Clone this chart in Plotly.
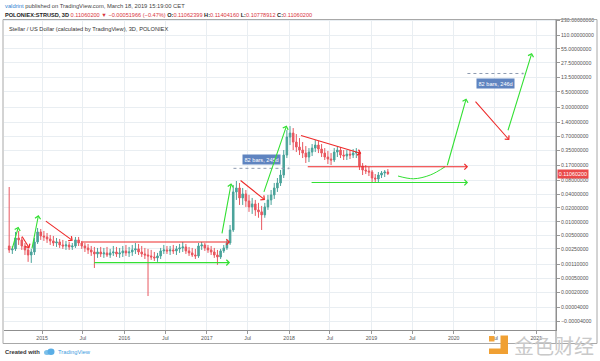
import math
import pandas as pd
import plotly.graph_objects as go

# ---------------- data (STR/USD, Poloniex, 14-day candles) ----------------
BAR_START = "2014-08-08"
BAR_DAYS = 14

opens = [0.00292, 0.00238, 0.00251, 0.00440, 0.00398, 0.00292, 0.00238, 0.00183, 0.00214, 0.00359,
         0.00597, 0.00487, 0.00463, 0.00418, 0.00378, 0.00341, 0.00359, 0.00308, 0.00292, 0.00308,
         0.00278, 0.00292, 0.00398, 0.00341, 0.00292, 0.00264, 0.00238, 0.00214, 0.00193, 0.00214,
         0.00193, 0.00204, 0.00183, 0.00204, 0.00214, 0.00193, 0.00204, 0.00226, 0.00204, 0.00214,
         0.00238, 0.00251, 0.00214, 0.00193, 0.00183, 0.00174, 0.00165, 0.00157, 0.00174, 0.00226,
         0.00238, 0.00226, 0.00238, 0.00226, 0.00251, 0.00264, 0.00278, 0.00226, 0.00204, 0.00183,
         0.00174, 0.00292, 0.00308, 0.00264, 0.00238, 0.00214, 0.00183, 0.00165, 0.00226, 0.00264,
         0.00341, 0.00660, 0.0444, 0.0541, 0.0329, 0.0402, 0.0283, 0.0210, 0.0244, 0.0181,
         0.0164, 0.0141, 0.0210, 0.0298, 0.0382, 0.0541, 0.0694, 0.1032, 0.279, 0.6835,
         0.834, 0.533, 0.416, 0.358, 0.308, 0.253, 0.324, 0.395, 0.459, 0.376,
         0.308, 0.253, 0.229, 0.218, 0.324, 0.358, 0.279, 0.266, 0.293, 0.279,
         0.308, 0.324, 0.1616, 0.1324, 0.126, 0.1199, 0.0889, 0.0846, 0.1032, 0.1141,
         0.1199]
highs = [0.0568, 0.00292, 0.00597, 0.00628, 0.00463, 0.00341, 0.00292, 0.00251, 0.00440, 0.00730,
         0.00694, 0.00628, 0.00567, 0.00513, 0.00487, 0.00440, 0.00418, 0.00398, 0.00378, 0.00359,
         0.00341, 0.00463, 0.00463, 0.00378, 0.00341, 0.00324, 0.00292, 0.00278, 0.00264, 0.00278,
         0.00264, 0.00278, 0.00251, 0.00292, 0.00278, 0.00264, 0.00292, 0.00308, 0.00278, 0.00308,
         0.00341, 0.00324, 0.00292, 0.00264, 0.00251, 0.00238, 0.00214, 0.00204, 0.00264, 0.00308,
         0.00292, 0.00292, 0.00308, 0.00292, 0.00324, 0.00359, 0.00324, 0.00278, 0.00264, 0.00251,
         0.00341, 0.00359, 0.00341, 0.00308, 0.00292, 0.00264, 0.00238, 0.00251, 0.00308, 0.00398,
         0.00849, 0.0628, 0.0766, 0.0694, 0.0541, 0.0489, 0.0382, 0.0329, 0.0298, 0.0257,
         0.0221, 0.0257, 0.0382, 0.0489, 0.0694, 0.0889, 0.1324, 0.358, 0.968, 1.181,
         1.07, 0.794, 0.650, 0.533, 0.437, 0.395, 0.483, 0.589, 0.560, 0.483,
         0.395, 0.341, 0.308, 0.395, 0.437, 0.416, 0.358, 0.358, 0.358, 0.376,
         0.395, 0.358, 0.1876, 0.1698, 0.1537, 0.1324, 0.1085, 0.1199, 0.126, 0.1324,
         0.139]
lows = [0.00204, 0.00193, 0.00226, 0.00308, 0.00238, 0.00183, 0.00127, 0.00120, 0.00183, 0.00324,
        0.00398, 0.00378, 0.00341, 0.00308, 0.00292, 0.00278, 0.00264, 0.00251, 0.00238, 0.00238,
        0.00238, 0.00264, 0.00292, 0.00251, 0.00214, 0.00193, 0.00174, 0.00091, 0.00157, 0.00165,
        0.00157, 0.00165, 0.00157, 0.00174, 0.00165, 0.00157, 0.00165, 0.00174, 0.00165, 0.00174,
        0.00193, 0.00183, 0.00165, 0.00148, 0.00015, 0.00141, 0.00133, 0.00127, 0.00148, 0.00193,
        0.00193, 0.00183, 0.00193, 0.00183, 0.00204, 0.00214, 0.00193, 0.00174, 0.00165, 0.00148,
        0.00157, 0.00238, 0.00226, 0.00204, 0.00183, 0.00157, 0.00108, 0.00148, 0.00204, 0.00238,
        0.00308, 0.00597, 0.0298, 0.0232, 0.0232, 0.0210, 0.0164, 0.0148, 0.0134, 0.0122,
        0.0066, 0.0122, 0.0181, 0.0232, 0.0313, 0.0444, 0.0598, 0.0889, 0.2405, 0.459,
        0.358, 0.324, 0.279, 0.2405, 0.188, 0.197, 0.266, 0.324, 0.308, 0.253,
        0.218, 0.1785, 0.170, 0.197, 0.253, 0.2405, 0.218, 0.218, 0.229, 0.2405,
        0.2405, 0.1324, 0.1032, 0.1085, 0.0982, 0.0729, 0.0694, 0.0729, 0.0889, 0.0934,
        0.1032]
closes = [0.00238, 0.00251, 0.00440, 0.00398, 0.00292, 0.00238, 0.00183, 0.00214, 0.00359, 0.00597,
          0.00487, 0.00463, 0.00418, 0.00378, 0.00341, 0.00359, 0.00308, 0.00292, 0.00308, 0.00278,
          0.00292, 0.00398, 0.00341, 0.00292, 0.00264, 0.00238, 0.00214, 0.00193, 0.00214, 0.00193,
          0.00204, 0.00183, 0.00204, 0.00214, 0.00193, 0.00204, 0.00226, 0.00204, 0.00214, 0.00238,
          0.00251, 0.00214, 0.00193, 0.00183, 0.00174, 0.00165, 0.00157, 0.00174, 0.00226, 0.00238,
          0.00226, 0.00238, 0.00226, 0.00251, 0.00264, 0.00278, 0.00226, 0.00204, 0.00183, 0.00174,
          0.00292, 0.00308, 0.00264, 0.00238, 0.00214, 0.00183, 0.00165, 0.00226, 0.00264, 0.00341,
          0.00660, 0.0444, 0.0541, 0.0329, 0.0402, 0.0283, 0.0210, 0.0244, 0.0181, 0.0164,
          0.0141, 0.0210, 0.0298, 0.0382, 0.0541, 0.0694, 0.1032, 0.279, 0.6835, 0.834,
          0.533, 0.416, 0.358, 0.308, 0.253, 0.324, 0.395, 0.459, 0.376, 0.308,
          0.253, 0.229, 0.218, 0.324, 0.358, 0.279, 0.266, 0.293, 0.279, 0.308,
          0.324, 0.1616, 0.1324, 0.126, 0.1199, 0.0889, 0.0846, 0.1032, 0.1141, 0.1199,
          0.1106]

last_price = 0.11060200

x_tick_dates = ["2015-01-01", "2015-07-01", "2016-01-01", "2016-07-01", "2017-01-01", "2017-07-01",
                "2018-01-01", "2018-07-01", "2019-01-01", "2019-07-01", "2020-01-01", "2020-07-01",
                "2021-01-01"]
x_tick_labels = ["2015", "Jul", "2016", "Jul", "2017", "Jul", "2018", "Jul", "2019", "Jul", "2020",
                 "Jul", "2021"]

y_tick_values = [230, 110, 55, 27.5, 13.5, 6.5, 3.0, 1.4, 0.7, 0.35, 0.17, 0.08, 0.04, 0.02, 0.01,
                 0.005, 0.0025, 0.0011, 0.0005, 0.0002, 0.00004, -0.00004]
y_tick_labels = ["230.00000000", "110.00000000", "55.00000000", "27.50000000", "13.50000000",
                 "6.50000000", "3.00000000", "1.40000000", "0.70000000", "0.35000000", "0.17000000",
                 "0.08000000", "0.04000000", "0.02000000", "0.01000000", "0.00500000", "0.00250000",
                 "0.00110000", "0.00050000", "0.00020000", "0.00004000", "\u22120.00004000"]

GREEN = "#33e033"
RED = "#ee2a2a"
# analyst drawings: (start date, start price, end date, end price, colour)
arrows = [
    ("2014-08-20", 0.00238, "2014-09-18", 0.0078, GREEN),
    ("2014-09-30", 0.00513, "2014-11-06", 0.0026, RED),
    ("2014-11-16", 0.00238, "2014-12-16", 0.0140, GREEN),
    ("2015-01-11", 0.0109, "2015-05-17", 0.00384, RED),
    ("2015-06-18", 0.00359, "2017-04-14", 0.00359, RED),
    ("2015-08-14", 0.00122, "2017-04-14", 0.00122, GREEN),
    ("2017-03-08", 0.00513, "2017-04-19", 0.0683, GREEN),
    ("2017-05-24", 0.0833, "2017-09-16", 0.0297, RED),
    ("2017-09-09", 0.0412, "2017-12-21", 1.22, GREEN),
    ("2018-02-16", 0.755, "2018-11-17", 0.302, RED),
    ("2018-03-18", 0.156, "2020-03-05", 0.156, RED),
    ("2018-04-04", 0.0711, "2020-03-05", 0.0711, GREEN),
    ("2019-12-02", 0.156, "2020-02-26", 4.69, GREEN),
    ("2020-04-01", 4.30, "2020-09-04", 0.589, RED),
    ("2020-08-27", 0.890, "2020-12-13", 45.2, GREEN),
]
arc_dates = ["2019-04-29", "2019-07-07", "2019-09-19", "2019-11-24"]
arc_prices = [0.0982, 0.0857, 0.1032, 0.156]
# date-range measurements: (start, end, line price, label date, label price, text)
ranges = [
    ("2017-04-29", "2017-12-30", 0.144, "2017-08-31", 0.229, "82 bars, 245d"),
    ("2020-03-02", "2020-11-03", 16.2, "2020-07-03", 9.9, "82 bars, 246d"),
]

# TradingView log scale: log10(|price| + 0.0001), mirrored below zero
OFFSET = 0.0001


def tv(v):
    if v >= 0:
        return v + OFFSET
    return 10 ** (-(math.log10(-v + OFFSET) + 4) - 4)


def lg(v):
    return math.log10(tv(v))


dates = pd.date_range(BAR_START, periods=len(closes), freq=f"{BAR_DAYS}D")

fig = go.Figure()
fig.add_trace(go.Candlestick(
    x=dates,
    open=[tv(v) for v in opens], high=[tv(v) for v in highs],
    low=[tv(v) for v in lows], close=[tv(v) for v in closes],
    increasing=dict(line=dict(color="#4aa39a", width=1), fillcolor="#4aa39a"),
    decreasing=dict(line=dict(color="#e8575f", width=1), fillcolor="#e8575f"),
    whiskerwidth=0, hoverinfo="skip", showlegend=False,
))

fig.add_trace(go.Scatter(x=arc_dates, y=[tv(v) for v in arc_prices], mode="lines",
                         line=dict(color=GREEN, width=1, shape="spline"), hoverinfo="skip"))

for sd, ed, lp, ld, lpp, txt in ranges:
    fig.add_trace(go.Scatter(x=[sd, ed], y=[tv(lp), tv(lp)], mode="lines+markers",
                             line=dict(color="#8e9bb0", width=1, dash="dot"),
                             marker=dict(size=[0, 3], color="#8e9bb0"), hoverinfo="skip"))
    fig.add_annotation(x=ld, y=lg(lpp), xref="x", yref="y", text=txt, showarrow=False,
                       bgcolor="#5f84c0", borderpad=1.5,
                       font=dict(color="white", size=5.6, family="Liberation Sans"))

for sd, sp, ed, ep, col in arrows:
    fig.add_annotation(x=ed, y=lg(ep), ax=sd, ay=lg(sp), xref="x", yref="y", axref="x", ayref="y",
                       text="", showarrow=True, arrowhead=4, arrowsize=1.0, arrowwidth=1.1,
                       arrowcolor=col, standoff=0, startstandoff=0)

# current price badge
fig.add_annotation(x=1, xref="paper", xanchor="left", xshift=1, y=lg(last_price), yref="y",
                   text=f"{last_price:.8f}", showarrow=False, bgcolor="#ea4a4a", borderpad=0.8,
                   font=dict(color="white", size=5.4, family="Liberation Sans"))


def PX(x):
    return (x - 4) / 552


def PY(y):
    return (330 - y) / 311


hdr = dict(xref="paper", yref="paper", showarrow=False, xanchor="left", yanchor="middle")
fig.add_annotation(x=PX(3), y=PY(6), **hdr,
                   text='<span style="color:#2f7fd1">valdrint</span> published on TradingView.com, March 18, 2019 15:19:00 CET',
                   font=dict(size=5.8, color="#444", family="Liberation Sans"))
R_ = "#d9363e"
fig.add_annotation(x=PX(3), y=PY(14.5), **hdr,
                   text=(f'<b>POLONIEX:STRUSD, 3D</b> <span style="color:{R_}">0.11060200 \u25bc \u22120.00051966 (\u22120.47%)</span> '
                         f'<b>O:</b><span style="color:{R_}">0.11062399</span> <b>H:</b><span style="color:{R_}">0.11404160</span> '
                         f'<b>L:</b><span style="color:{R_}">0.10778912</span> <b>C:</b><span style="color:{R_}">0.11060200</span>'),
                   font=dict(size=5.6, color="#222", family="Liberation Sans"))
fig.add_annotation(x=PX(7), y=PY(28.7), **hdr,
                   text="Stellar / US Dollar (calculated by TradingView), 3D, POLONIEX",
                   font=dict(size=5.7, color="#333", family="Liberation Sans"))
fig.add_annotation(x=PX(3), y=PY(352), **hdr, text="<b>Created with</b>",
                   font=dict(size=5.8, color="#333", family="Liberation Sans"))
fig.add_annotation(x=PX(55.5), y=PY(352), **hdr, text="TradingView",
                   font=dict(size=5.8, color="#3d9be0", family="Liberation Sans"))
fig.add_annotation(x=PX(512), y=PY(345.5), **hdr, text="金色财经",
                   font=dict(size=20, color="#c9c9c9", family="Noto Sans CJK SC"))

shapes = [
    dict(type="rect", xref="paper", yref="paper", x0=PX(3), x1=PX(597), y0=PY(343.5), y1=PY(19.5),
         line=dict(color="#a8a8a8", width=1), layer="above"),
    dict(type="line", xref="paper", yref="paper", x0=1, x1=1, y0=PY(343.5), y1=PY(19.5),
         line=dict(color="#8f8f8f", width=1), layer="above"),
    # TradingView logo (small cloud)
    dict(type="circle", xref="paper", yref="paper", x0=PX(44), x1=PX(50), y0=PY(355), y1=PY(350),
         fillcolor="#7cc0ea", line=dict(width=0)),
    dict(type="circle", xref="paper", yref="paper", x0=PX(47.5), x1=PX(54.5), y0=PY(355), y1=PY(348.5),
         fillcolor="#5aaee6", line=dict(width=0)),
    # watermark icon
    dict(type="rect", xref="paper", yref="paper", x0=PX(489), x1=PX(494.5), y0=PY(341.5), y1=PY(336),
         fillcolor="#f2a43a", line=dict(width=0), layer="above"),
    dict(type="rect", xref="paper", yref="paper", x0=PX(500.5), x1=PX(508), y0=PY(354), y1=PY(335.5),
         fillcolor="#f0a033", line=dict(width=0), layer="above"),
    dict(type="rect", xref="paper", yref="paper", x0=PX(489), x1=PX(508), y0=PY(354), y1=PY(348.5),
         fillcolor="#f0a033", line=dict(width=0), layer="above"),
]

tickfont = dict(size=5.2, color="#555", family="Liberation Sans")
fig.update_layout(
    width=600, height=361,
    margin=dict(l=4, r=44, t=19, b=31),
    paper_bgcolor="white", plot_bgcolor="white",
    showlegend=False,
    shapes=shapes,
    xaxis=dict(type="date", range=["2014-07-16", "2021-03-30"],
               tickmode="array", tickvals=x_tick_dates, ticktext=x_tick_labels,
               showgrid=True, gridcolor="#e9eef2", gridwidth=1,
               ticks="outside", ticklen=3, tickcolor="#999", tickfont=tickfont,
               showline=True, linecolor="#8f8f8f", linewidth=1,
               rangeslider=dict(visible=False), zeroline=False, fixedrange=True),
    yaxis=dict(type="log", side="right", range=[-4.3367, 2.3876],
               tickmode="array", tickvals=[tv(v) for v in y_tick_values], ticktext=y_tick_labels,
               showgrid=True, gridcolor="#e9eef2", gridwidth=1,
               ticks="outside", ticklen=3, tickcolor="#999", tickfont=tickfont,
               showline=True, linecolor="#8f8f8f", linewidth=1, zeroline=False, fixedrange=True),
)

fig.write_html("out.html", config={"displayModeBar": False},
               post_script="document.body.style.margin='0';document.body.style.overflow='hidden';")
